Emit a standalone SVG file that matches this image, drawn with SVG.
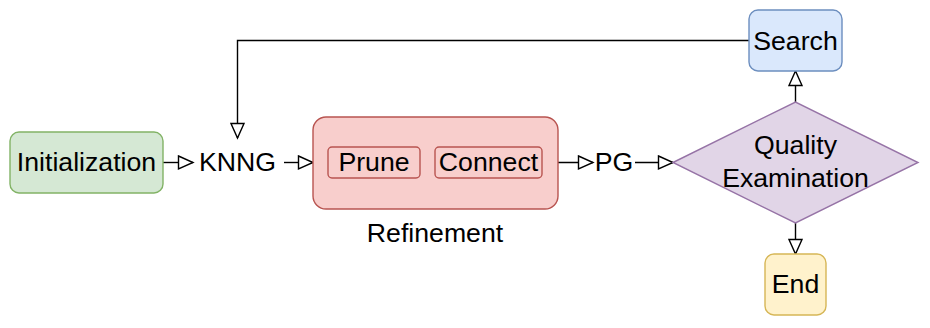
<svg xmlns="http://www.w3.org/2000/svg" width="930" height="328" viewBox="0 0 930 328">
<style>
text{font-family:"Liberation Sans",Arial,sans-serif;font-size:26.67px;fill:#000;text-anchor:middle}
.c{fill:none;stroke:#000;stroke-width:1.4}
</style>
<defs>
<marker id="ah" markerUnits="userSpaceOnUse" markerWidth="18" markerHeight="16" viewBox="0 0 18 16" refX="16" refY="8" orient="auto">
<path d="M1.5,1.5 L16,8 L1.5,14.5 Z" fill="#fff" stroke="#000" stroke-width="1.4"/>
</marker>
</defs>
<rect width="930" height="328" fill="#fff"/>
<g id="connectors">
<path class="c" d="M163,162.5 H193" marker-end="url(#ah)"/>
<path class="c" d="M284,162.5 H313" marker-end="url(#ah)"/>
<path class="c" d="M558,162.5 H593" marker-end="url(#ah)"/>
<path class="c" d="M635,162.5 H673" marker-end="url(#ah)"/>
<path class="c" d="M795.5,102 V71" marker-end="url(#ah)"/>
<path class="c" d="M795.5,223 V254" marker-end="url(#ah)"/>
<path class="c" d="M749,40.5 H237.5 V138" marker-end="url(#ah)"/>
</g>
<g id="init">
<rect x="10" y="132" width="153" height="61" rx="9" fill="#d5e8d4" stroke="#82b366" stroke-width="1.4"/>
<text x="86.5" y="171">Initialization</text>
</g>
<g id="knng"><text x="237.5" y="171">KNNG</text></g>
<g id="refinement">
<rect x="313" y="117" width="245" height="92" rx="13" fill="#f8cecc" stroke="#b85450" stroke-width="1.4"/>
<text x="435" y="242">Refinement</text>
</g>
<g id="prune">
<rect x="328" y="147" width="92" height="31" rx="4" fill="#f8cecc" stroke="#b85450" stroke-width="1.4"/>
<text x="374" y="171">Prune</text>
</g>
<g id="connect">
<rect x="435" y="147" width="107" height="31" rx="4" fill="#f8cecc" stroke="#b85450" stroke-width="1.4"/>
<text x="488.5" y="171">Connect</text>
</g>
<g id="pg"><text x="614" y="171">PG</text></g>
<g id="quality">
<path d="M673,162.5 L795.5,102 L918,162.5 L795.5,223 Z" fill="#e1d5e7" stroke="#9673a6" stroke-width="1.4"/>
<text x="795.5" y="154">Quality</text>
<text x="795.5" y="187">Examination</text>
</g>
<g id="search">
<rect x="749" y="10" width="93" height="61" rx="9" fill="#dae8fc" stroke="#6c8ebf" stroke-width="1.4"/>
<text x="795.5" y="49.5">Search</text>
</g>
<g id="end">
<rect x="765" y="254" width="61" height="61" rx="9" fill="#fff2cc" stroke="#d6b656" stroke-width="1.4"/>
<text x="795.5" y="293">End</text>
</g>
</svg>
